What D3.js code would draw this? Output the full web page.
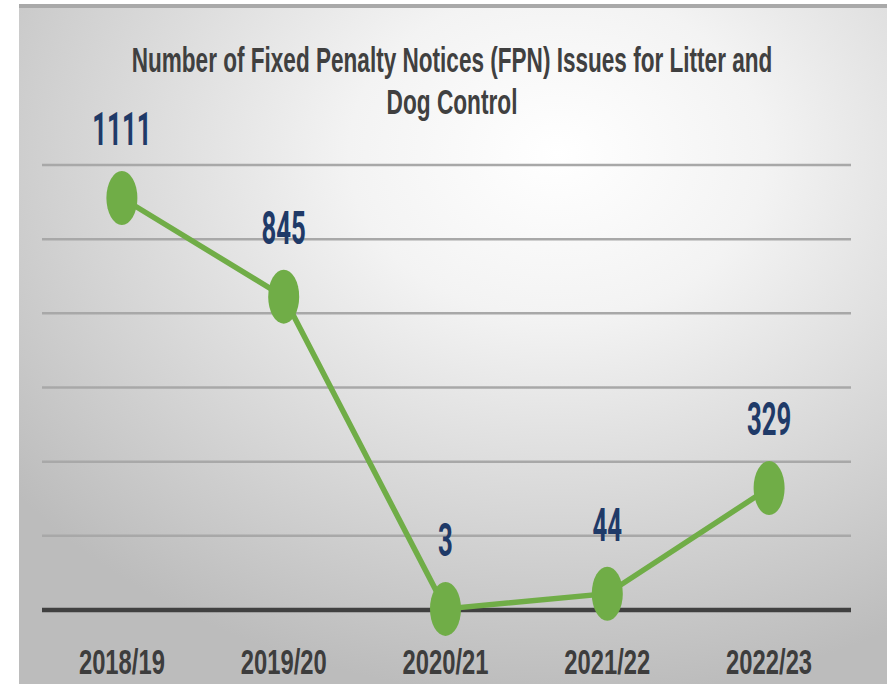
<!DOCTYPE html>
<html>
<head>
<meta charset="utf-8">
<script src="https://cdn.jsdelivr.net/npm/d3@7"></script>
<style>
  body { margin: 0; background: #fff; }
  svg { display: block; }
</style>
</head>
<body>
<div id="chart"></div>
<script>
var years = ["2018/19", "2019/20", "2020/21", "2021/22", "2022/23"];
var fpnCounts = [1111, 845, 3, 44, 329];
var gridTicks = [200, 400, 600, 800, 1000, 1200];
var titleLines = ["Number of Fixed Penalty Notices (FPN) Issues for Litter and", "Dog Control"];

var width = 887, height = 684;

var svg = d3.select("#chart").append("svg")
    .attr("width", width)
    .attr("height", height);

// background gradient like the slide
var defs = svg.append("defs");
var grad = defs.append("radialGradient")
    .attr("id", "bg")
    .attr("cx", "62%").attr("cy", "22%").attr("r", "80%");
grad.append("stop").attr("offset", "0%").attr("stop-color", "#ffffff");
grad.append("stop").attr("offset", "30%").attr("stop-color", "#f3f3f3");
grad.append("stop").attr("offset", "100%").attr("stop-color", "#bcbcbc");

svg.append("rect")
    .attr("x", 19).attr("y", 4)
    .attr("width", width - 19).attr("height", height - 4)
    .style("fill", "url(#bg)");
svg.append("rect")
    .attr("x", 19).attr("y", 4)
    .attr("width", width - 19).attr("height", 4)
    .style("fill", "#a9a9a9");

var xScale = d3.scaleBand()
    .domain(years)
    .range([41, 850])
    .padding(0);

var yScale = d3.scaleLinear().domain([0, 1200]).range([610, 165]);

function cx(d) { return xScale(d) + xScale.bandwidth() / 2; }

// gridlines
svg.append("g")
    .selectAll("line")
    .data(gridTicks)
    .enter().append("line")
    .attr("x1", 42).attr("x2", 851)
    .attr("y1", function (d) { return yScale(d); })
    .attr("y2", function (d) { return yScale(d); })
    .style("stroke", "#a8a8a8")
    .style("stroke-width", 2.5);

// x axis (baseline + labels)
var xAxis = d3.axisBottom(xScale).tickSize(0).tickPadding(0);
var axisG = svg.append("g")
    .attr("transform", "translate(0," + yScale(0) + ")")
    .call(xAxis);
axisG.select(".domain").remove();
axisG.append("line")
    .attr("x1", 42).attr("x2", 851)
    .attr("y1", 0).attr("y2", 0)
    .style("stroke", "#404040")
    .style("stroke-width", 4.5);
axisG.selectAll(".tick text")
    .attr("y", 0).attr("dy", 0)
    .attr("transform", "translate(0,64) scale(0.68,1)")
    .style("font-family", "'Liberation Sans', Arial, sans-serif")
    .style("font-weight", "bold")
    .style("font-size", "35px")
    .style("fill", "#3d3d3d");

// line
var line = d3.line()
    .x(function (d, i) { return cx(years[i]); })
    .y(function (d) { return yScale(d); });

svg.append("path")
    .datum(fpnCounts)
    .attr("d", line)
    .style("fill", "none")
    .style("stroke", "#70ad47")
    .style("stroke-width", 5.5);

svg.append("g")
    .selectAll("ellipse")
    .data(fpnCounts)
    .enter().append("ellipse")
    .attr("cx", function (d, i) { return cx(years[i]); })
    .attr("cy", function (d) { return yScale(d); })
    .attr("rx", 15.5)
    .attr("ry", 27)
    .style("fill", "#70ad47");

// data labels
svg.append("g")
    .selectAll("text")
    .data(fpnCounts)
    .enter().append("text")
    .attr("transform", function (d, i) {
        return "translate(" + cx(years[i]) + "," + (yScale(d) - 53) + ") scale(0.56,1)";
    })
    .attr("text-anchor", "middle")
    .style("font-family", "Roboto, 'Liberation Sans', sans-serif")
    .style("font-weight", "bold")
    .style("font-size", "46px")
    .style("fill", "#1f3a68")
    .text(function (d) { return d; });

// title, squeezed horizontally to the slide's condensed look
var titleWidths = [641, 131];
svg.append("g")
    .selectAll("text")
    .data(titleLines)
    .enter().append("text")
    .attr("text-anchor", "middle")
    .style("font-family", "'Liberation Sans', Arial, sans-serif")
    .style("font-weight", "bold")
    .style("font-size", "36px")
    .style("fill", "#404040")
    .text(function (d) { return d; })
    .attr("transform", function (d, i) {
        var w = this.getComputedTextLength();
        var sx = titleWidths[i] / w;
        return "translate(452," + (72 + i * 42) + ") scale(" + sx + ",1)";
    });
</script>
</body>
</html>
